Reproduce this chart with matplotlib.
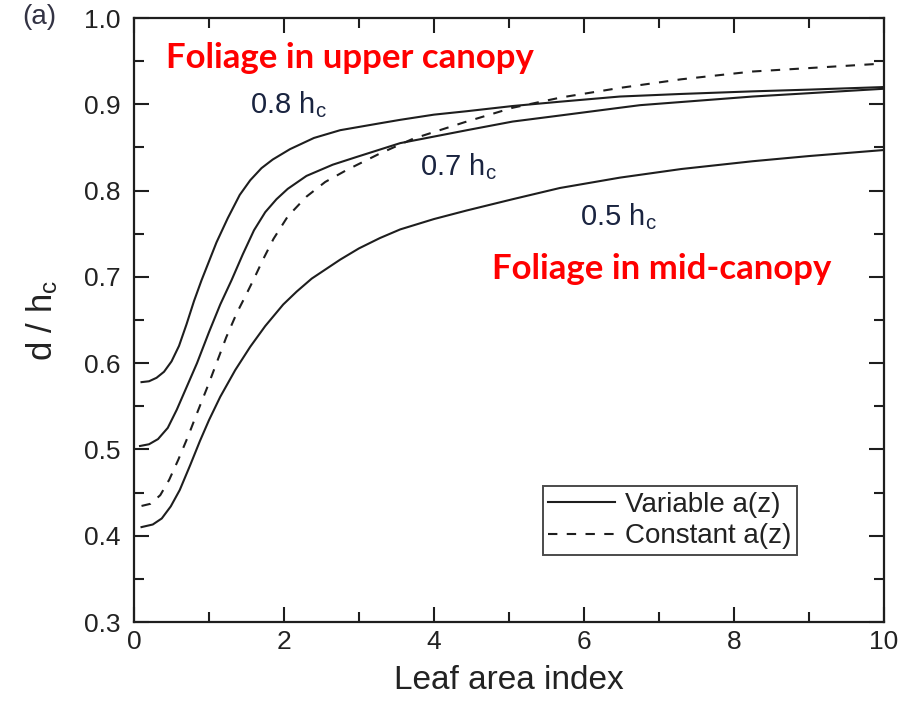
import numpy as np
import matplotlib
matplotlib.use("Agg")
import matplotlib.pyplot as plt
from matplotlib.ticker import MultipleLocator, FormatStrFormatter

plt.rcParams['font.family'] = ['Liberation Sans', 'DejaVu Sans']
plt.rcParams['mathtext.default'] = 'regular'

# d/hc vs leaf area index, variable foliage profile peaking at 0.8, 0.7, 0.5 hc
lai_08 = [0.10, 0.20, 0.30, 0.40, 0.50, 0.60, 0.70, 0.80, 0.90, 1.00, 1.10, 1.25,
          1.41, 1.55, 1.70, 1.85, 2.08, 2.40, 2.75, 3.28, 3.55, 4.00, 4.44, 5.05,
          5.68, 6.48, 7.30, 8.25, 9.00, 10.0]
d_08 = [0.578, 0.579, 0.583, 0.590, 0.602, 0.620, 0.645, 0.672, 0.696, 0.718, 0.740,
        0.768, 0.795, 0.812, 0.826, 0.836, 0.848, 0.861, 0.870, 0.878, 0.882, 0.888,
        0.892, 0.898, 0.903, 0.909, 0.912, 0.915, 0.917, 0.920]

lai_07 = [0.08, 0.20, 0.32, 0.45, 0.57, 0.70, 0.84, 1.00, 1.15, 1.30, 1.45, 1.60,
          1.75, 1.90, 2.05, 2.30, 2.65, 2.97, 3.55, 4.44, 5.05, 5.68, 6.48, 6.75,
          8.25, 10.0]
d_07 = [0.504, 0.506, 0.512, 0.525, 0.546, 0.572, 0.600, 0.636, 0.668, 0.696, 0.726,
        0.754, 0.775, 0.790, 0.802, 0.817, 0.830, 0.839, 0.855, 0.870, 0.880, 0.887,
        0.896, 0.899, 0.909, 0.918]

lai_05 = [0.10, 0.25, 0.37, 0.49, 0.61, 0.75, 0.88, 1.00, 1.15, 1.35, 1.55, 1.75,
          1.99, 2.17, 2.37, 2.75, 3.00, 3.28, 3.55, 4.00, 4.44, 5.05, 5.68, 6.48,
          7.30, 8.25, 9.00, 10.0]
d_05 = [0.410, 0.413, 0.420, 0.434, 0.453, 0.482, 0.510, 0.534, 0.561, 0.592, 0.619,
        0.643, 0.668, 0.683, 0.698, 0.720, 0.733, 0.745, 0.755, 0.767, 0.777, 0.790,
        0.803, 0.815, 0.825, 0.834, 0.840, 0.847]

# constant leaf area density
lai_const = [0.10, 0.22, 0.35, 0.47, 0.59, 0.72, 0.84, 1.00, 1.10, 1.23, 1.37, 1.47,
             1.59, 1.72, 1.86, 2.05, 2.30, 2.55, 2.84, 3.28, 3.72, 4.40, 5.05, 5.70,
             6.48, 7.30, 8.25, 9.95]
d_const = [0.4345, 0.437, 0.447, 0.465, 0.488, 0.515, 0.542, 0.577, 0.600, 0.630,
           0.658, 0.675, 0.696, 0.720, 0.744, 0.770, 0.793, 0.810, 0.824, 0.843,
           0.860, 0.879, 0.896, 0.908, 0.919, 0.929, 0.938, 0.947]

fig = plt.figure(figsize=(9.13, 7.12), dpi=100)
ax = fig.add_axes([0.1468, 0.1264, 0.8212, 0.8483])

lc = '#1e1e1e'
lw = 1.5
ax.plot(lai_08, d_08, '-', color=lc, lw=lw, label='Variable a(z)')
ax.plot(lai_07, d_07, '-', color=lc, lw=lw)
ax.plot(lai_05, d_05, '-', color=lc, lw=lw)
ax.plot(lai_const, d_const, '--', color=lc, lw=lw, dashes=(4.5, 4.5),
        label='Constant a(z)')

ax.set_xlim(0, 10)
ax.set_ylim(0.3, 1.0)
ax.xaxis.set_major_locator(MultipleLocator(2))
ax.xaxis.set_minor_locator(MultipleLocator(1))
ax.yaxis.set_major_locator(MultipleLocator(0.1))
ax.yaxis.set_minor_locator(MultipleLocator(0.05))
ax.yaxis.set_major_formatter(FormatStrFormatter('%.1f'))

for s in ax.spines.values():
    s.set_linewidth(1.6)
    s.set_color(lc)
ax.tick_params(which='both', direction='in', top=True, right=True, width=1.5,
               color=lc, labelcolor='#222222', labelsize=19)
ax.tick_params(which='major', length=11)
ax.tick_params(which='minor', length=7)
ax.tick_params(axis='y', pad=10)
ax.tick_params(axis='x', pad=6)

ax.set_xlabel('Leaf area index', fontsize=24, color='#222222', labelpad=8)
ax.set_ylabel(r'd / h$_c$', fontsize=25, color='#222222', labelpad=17)

leg = ax.legend(loc='lower right', bbox_to_anchor=(0.884, 0.111), fontsize=20,
                frameon=True, fancybox=False, handlelength=2.4, handletextpad=0.35,
                borderpad=0.2, labelspacing=0.2, borderaxespad=0)
leg.get_frame().set_edgecolor(lc)
leg.get_frame().set_linewidth(1.4)
for t in leg.get_texts():
    t.set_color('#222222')

tc = '#1a2440'
ax.text(1.55, 0.890, r'0.8 h$_c$', fontsize=21, color=tc, ha='left', va='baseline')
ax.text(3.81, 0.818, r'0.7 h$_c$', fontsize=21, color=tc, ha='left', va='baseline')
ax.text(5.95, 0.760, r'0.5 h$_c$', fontsize=21, color=tc, ha='left', va='baseline')

red = '#ff0000'
ax.text(0.42, 0.942, 'Foliage in upper canopy', fontsize=25, color=red,
        fontweight='bold', family=['Lato', 'DejaVu Sans'], ha='left', va='baseline')
ax.text(4.77, 0.6975, 'Foliage in mid-canopy', fontsize=25, color=red,
        fontweight='bold', family=['Lato', 'DejaVu Sans'], ha='left', va='baseline')

fig.text(0.024, 0.976, '(a)', fontsize=20, color='#333344', ha='left', va='center')

fig.savefig('out.png', dpi=100)
